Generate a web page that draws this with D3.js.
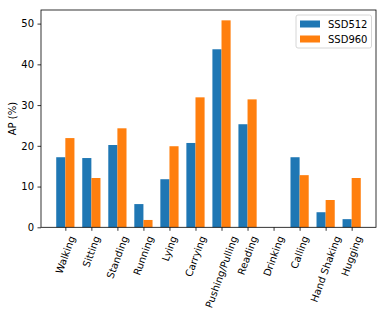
<!DOCTYPE html>
<html lang="en">
<head>
  <meta charset="UTF-8">
  <title>AP per action</title>
  <script src="https://d3js.org/d3.v7.min.js"></script>
  <style>
    body { margin: 0; background: #fff; }
    svg text { font-family: "DejaVu Sans", sans-serif; fill: #000; }
    .tick text { font-size: 10px; }
  </style>
</head>
<body>
  <div id="body"></div>
  <script>
    // data
    const actions = ["Walking", "Sitting", "Standing", "Running", "Lying", "Carrying",
      "Pushing/Pulling", "Reading", "Drinking", "Calling", "Hand Shaking", "Hugging"];
    const ssd512 = [17.2, 17.0, 20.2, 5.7, 11.8, 20.7, 43.7, 25.3, 0, 17.2, 3.7, 2.0];
    const ssd960 = [21.9, 12.1, 24.3, 1.8, 19.9, 31.9, 50.8, 31.4, 0, 12.8, 6.7, 12.1];
    const seriesNames = ["SSD512", "SSD960"];
    const colors = ["#1f77b4", "#ff7f0e"];
    const yTicks = [0, 10, 20, 30, 40, 50];

    const width = 386, height = 317;
    const margin = { top: 10, right: 10, bottom: 90, left: 41 };
    const plotW = 376 - margin.left, plotH = 227.3 - margin.top;
    const barW = 0.35;

    const svg = d3.select("#body").append("svg")
      .attr("width", width).attr("height", height);
    const g = svg.append("g").attr("transform", `translate(${margin.left},${margin.top})`);

    // scales (matplotlib-like auto limits)
    const x = d3.scaleLinear().domain([-0.935, actions.length - 1 + 0.935]).range([0, plotW]);
    const y = d3.scaleLinear().domain([0, 50.8 * 1.05]).range([plotH, 0]);
    const ppu = x(1) - x(0);

    // bars
    [ssd512, ssd960].forEach((vals, s) => {
      g.selectAll(".bar" + s)
        .data(vals)
        .enter().append("rect")
        .attr("x", (d, i) => x(i + (s === 0 ? -barW : 0)))
        .attr("y", d => y(d))
        .attr("width", barW * ppu)
        .attr("height", d => plotH - y(d))
        .attr("fill", colors[s]);
    });

    // y axis
    const yAxis = g.append("g")
      .call(d3.axisLeft(y).tickValues(yTicks).tickSize(3.5).tickPadding(3.5));
    yAxis.select(".domain").remove();
    yAxis.selectAll("line").attr("stroke-width", 0.8);

    // x axis
    const xAxis = g.append("g")
      .attr("transform", `translate(0,${plotH})`)
      .call(d3.axisBottom(x).tickValues(d3.range(actions.length)).tickSize(3.5).tickFormat(""));
    xAxis.select(".domain").remove();
    xAxis.selectAll("line").attr("stroke-width", 0.8);

    // rotated category labels, bbox centered on tick
    const ang = 70 * Math.PI / 180;
    actions.forEach((a, i) => {
      const t = g.append("text")
        .attr("font-size", 10)
        .attr("text-anchor", "middle")
        .attr("dominant-baseline", "central")
        .text(a);
      const L = t.node().getComputedTextLength();
      const h = 11.6;
      const bh = L * Math.sin(ang) + h * Math.cos(ang);
      const cy = plotH + 3.5 + 3.5 + bh / 2;
      t.attr("transform", `translate(${x(i)},${cy}) rotate(-70)`);
    });

    // frame
    g.append("rect")
      .attr("width", plotW).attr("height", plotH)
      .attr("fill", "none").attr("stroke", "#000").attr("stroke-width", 0.8);

    // y label
    svg.append("text")
      .attr("transform", `translate(12,${margin.top + plotH / 2}) rotate(-90)`)
      .attr("text-anchor", "middle")
      .attr("dominant-baseline", "central")
      .attr("font-size", 10)
      .text("AP (%)");

    // legend
    const lg = svg.append("g").attr("transform", "translate(296,15)");
    lg.append("rect")
      .attr("width", 75.5).attr("height", 33).attr("rx", 2)
      .attr("fill", "#fff").attr("fill-opacity", 0.8)
      .attr("stroke", "#ccc").attr("stroke-width", 0.8);
    seriesNames.forEach((n, i) => {
      lg.append("rect")
        .attr("x", 4).attr("y", 5.5 + i * 15)
        .attr("width", 20).attr("height", 7)
        .attr("fill", colors[i]);
      lg.append("text")
        .attr("x", 32).attr("y", 9 + i * 15)
        .attr("dominant-baseline", "central")
        .attr("font-size", 10)
        .text(n);
    });
  </script>
</body>
</html>
